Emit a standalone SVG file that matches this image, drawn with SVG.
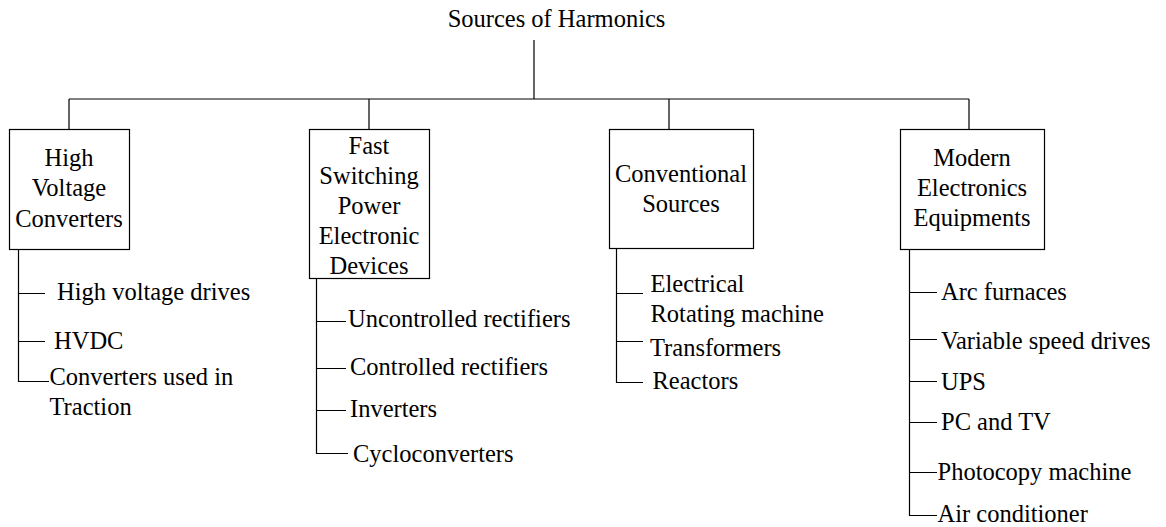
<svg xmlns="http://www.w3.org/2000/svg" width="1166" height="527" viewBox="0 0 1166 527">
<style>
text{font-family:"Liberation Serif","Times New Roman",serif;font-size:24.5px;fill:#000}
.c{text-anchor:middle}
.box{fill:#fff;stroke:#000;stroke-width:1.2}
.ln{fill:none;stroke:#000;stroke-width:1.2}
</style>
<rect width="1166" height="527" fill="#fff"/>
<g id="connectors">
<path class="ln" d="M534,40V99M69,99H969M69,99V129.5M369,99V129.5M669,99V129.5M969,99V129.5"/>
<path class="ln" d="M18.5,249.5V381.5H49M18.5,293.5H45M18.5,341.5H45"/>
<path class="ln" d="M316.5,278.5V453.5H348M316.5,321.5H346M316.5,368.5H346M316.5,410.5H346"/>
<path class="ln" d="M616.5,248.5V382.5H643M616.5,293.5H643M616.5,341.5H643"/>
<path class="ln" d="M909.5,249.5V515.5H937M909.5,292.5H937M909.5,339.5H937M909.5,381.5H937M909.5,422.5H937M909.5,472.5H937"/>
</g>
<g id="root"><text class="c" x="556.5" y="27">Sources of Harmonics</text></g>
<g id="n1">
<rect class="box" x="9.5" y="129.5" width="120" height="120"/>
<text class="c" x="69" y="166">High</text>
<text class="c" x="69" y="196">Voltage</text>
<text class="c" x="69" y="226.5">Converters</text>
</g>
<g id="n2">
<rect class="box" x="309.5" y="129.5" width="120" height="149"/>
<text class="c" x="369" y="153.5">Fast</text>
<text class="c" x="369" y="183.5">Switching</text>
<text class="c" x="369" y="213.5">Power</text>
<text class="c" x="369" y="243.5">Electronic</text>
<text class="c" x="369" y="273.5">Devices</text>
</g>
<g id="n3">
<rect class="box" x="609.5" y="129.5" width="144" height="119"/>
<text class="c" x="681" y="182">Conventional</text>
<text class="c" x="681" y="212">Sources</text>
</g>
<g id="n4">
<rect class="box" x="900.5" y="129.5" width="144" height="120"/>
<text class="c" x="972" y="166">Modern</text>
<text class="c" x="972" y="196">Electronics</text>
<text class="c" x="972" y="226">Equipments</text>
</g>
<g id="items1">
<text x="57" y="299.5">High voltage drives</text>
<text x="54" y="348.5">HVDC</text>
<text x="49.5" y="385">Converters used in</text>
<text x="49.5" y="415">Traction</text>
</g>
<g id="items2">
<text x="348" y="327">Uncontrolled rectifiers</text>
<text x="350" y="375">Controlled rectifiers</text>
<text x="350" y="417">Inverters</text>
<text x="353" y="462">Cycloconverters</text>
</g>
<g id="items3">
<text x="650.5" y="292">Electrical</text>
<text x="650.5" y="322">Rotating machine</text>
<text x="650" y="356">Transformers</text>
<text x="652.5" y="388.5">Reactors</text>
</g>
<g id="items4">
<text x="941" y="299.5">Arc furnaces</text>
<text x="941" y="348.5">Variable speed drives</text>
<text x="941" y="390">UPS</text>
<text x="941" y="430">PC and TV</text>
<text x="937.5" y="480">Photocopy machine</text>
<text x="937.5" y="522">Air conditioner</text>
</g>
</svg>
